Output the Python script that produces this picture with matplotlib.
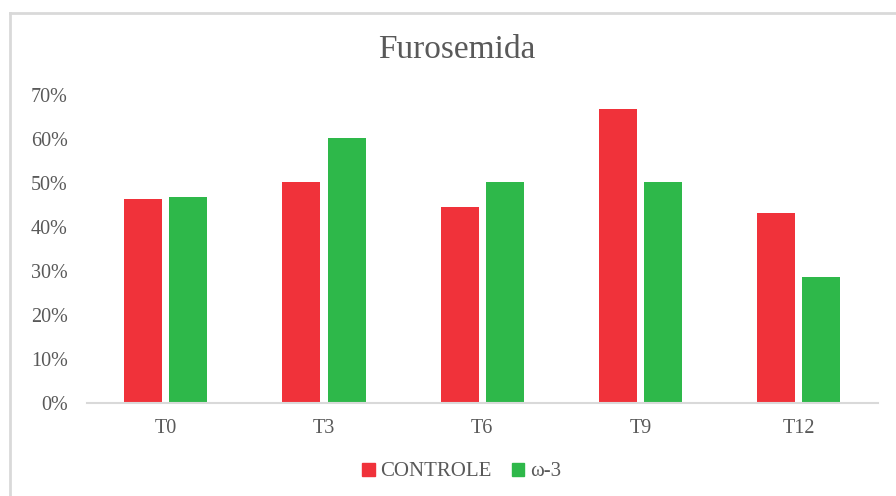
import matplotlib
matplotlib.use("Agg")
import matplotlib.pyplot as plt
from matplotlib.patches import Patch
from matplotlib.lines import Line2D
from matplotlib.ticker import FuncFormatter
import numpy as np

# data
categories = ["T0", "T3", "T6", "T9", "T12"]
controle = [0.464, 0.504, 0.447, 0.669, 0.432]
omega3 = [0.469, 0.603, 0.504, 0.504, 0.288]

RED = "#F0323A"
GREEN = "#2EB84A"
TXT = "#595959"
GRID = "#D9D9D9"

plt.rcParams["font.family"] = ["Liberation Serif", "DejaVu Serif"]

fig = plt.figure(figsize=(8.96, 4.96), dpi=100)
ax = fig.add_axes([0.0968, 0.1865, 0.8828, 0.621])

x = np.arange(len(categories))
w = 0.24
off = 0.143
ax.bar(x - off, controle, width=w, color=RED, label="CONTROLE")
ax.bar(x + off, omega3, width=w, color=GREEN, label="ω-3")

ax.set_xlim(-0.5, len(categories) - 0.5)
ax.set_ylim(0, 0.7)
ax.set_yticks(np.arange(0, 0.71, 0.1))
ax.yaxis.set_major_formatter(FuncFormatter(lambda v, _: f"{v*100:.0f}%"))
ax.set_xticks(x)
ax.set_xticklabels(categories)
ax.tick_params(axis="both", length=0, labelsize=14.5, labelcolor=TXT)
ax.tick_params(axis="y", pad=13.5)
ax.tick_params(axis="x", pad=11)

for s in ("top", "right", "left"):
    ax.spines[s].set_visible(False)
ax.spines["bottom"].set_color(GRID)
ax.spines["bottom"].set_linewidth(1.5)

fig.text(0.51, 1 - 50 / 496, "Furosemida", ha="center", va="center",
         fontsize=24, color=TXT)

handles = [Patch(color=RED, label="CONTROLE"), Patch(color=GREEN, label="ω-3")]
leg = fig.legend(handles=handles, loc="center", bbox_to_anchor=(0.515, 1 - 472 / 496),
                 ncol=2, frameon=False, fontsize=15, handlelength=0.6,
                 handleheight=0.6, handletextpad=0.25, columnspacing=1.0,
                 borderaxespad=0)
for t in leg.get_texts():
    t.set_color(TXT)

# chart frame (top and left edge visible)
fig.add_artist(Line2D([10 / 896, 1.0], [1 - 13 / 496, 1 - 13 / 496],
                      transform=fig.transFigure, color=GRID, linewidth=2))
fig.add_artist(Line2D([10 / 896, 10 / 896], [0, 1 - 13 / 496],
                      transform=fig.transFigure, color=GRID, linewidth=2))

fig.savefig("out.png", dpi=100)
